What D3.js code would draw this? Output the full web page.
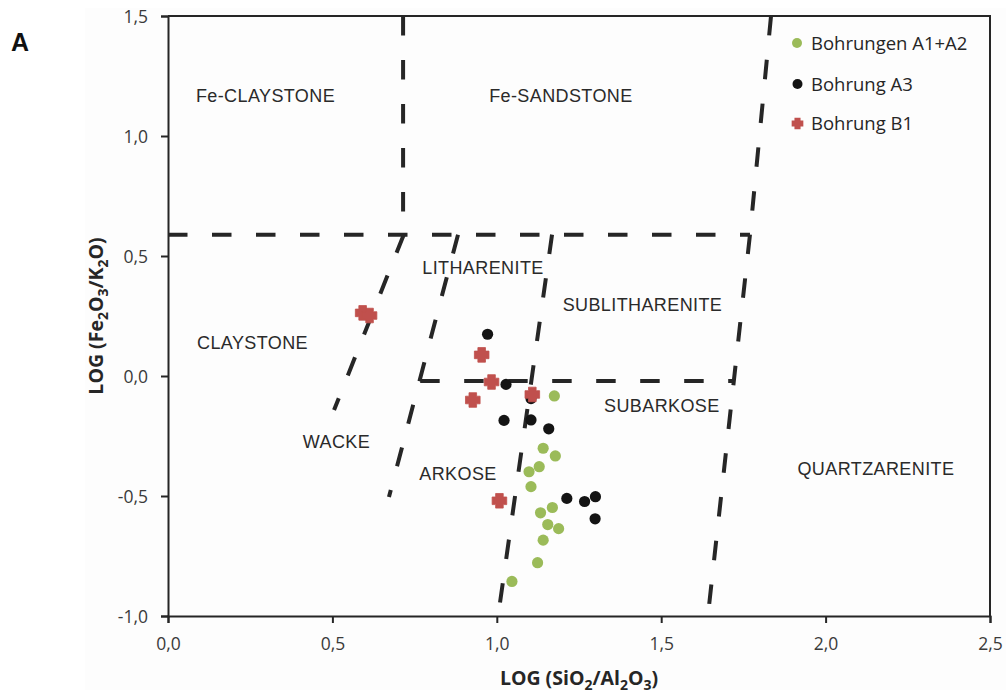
<!DOCTYPE html>
<html>
<head>
<meta charset="utf-8">
<script src="https://cdn.jsdelivr.net/npm/d3@7"></script>
<style>
  html, body { margin: 0; padding: 0; background: #ffffff; }
  svg { display: block; }
</style>
</head>
<body>
<svg id="chart" width="1006" height="695"></svg>
<script>
// ---------- data ----------
const xTicks = [0, 0.5, 1.0, 1.5, 2.0, 2.5];
const yTicks = [-1.0, -0.5, 0.0, 0.5, 1.0, 1.5];

// Bohrungen A1+A2 (green)
const seriesA12x = [1.175, 1.141, 1.178, 1.129, 1.098, 1.104, 1.169, 1.133, 1.155, 1.188, 1.141, 1.124, 1.046];
const seriesA12y = [-0.083, -0.301, -0.333, -0.378, -0.399, -0.461, -0.548, -0.570, -0.619, -0.636, -0.684, -0.778, -0.856];
// Bohrung A3 (black)
const seriesA3x = [0.972, 1.028, 1.104, 1.022, 1.104, 1.158, 1.213, 1.267, 1.300, 1.299];
const seriesA3y = [0.174, -0.035, -0.094, -0.185, -0.183, -0.220, -0.510, -0.523, -0.503, -0.595];
// Bohrung B1 (red)
const seriesB1x = [0.592, 0.613, 0.954, 0.984, 0.927, 1.108, 1.008];
const seriesB1y = [0.263, 0.252, 0.088, -0.025, -0.100, -0.077, -0.520];

const seriesNames = ["Bohrungen A1+A2", "Bohrung A3", "Bohrung B1"];

// classification boundaries [x1, y1, x2, y2] in data units
const boundaries = [
  [0.000, 0.589, 1.770, 0.589],
  [0.715, 1.500, 0.715, 0.589],
  [0.717, 0.589, 0.505, -0.142],
  [0.882, 0.589, 0.672, -0.504],
  [1.168, 0.589, 1.004, -1.000],
  [1.834, 1.500, 1.770, 0.589],
  [1.770, 0.589, 1.642, -1.000],
  [0.767, -0.021, 1.720, -0.021]
];

// field names with their centre in data units
const fieldNames = ["Fe-CLAYSTONE", "Fe-SANDSTONE", "LITHARENITE", "SUBLITHARENITE", "CLAYSTONE",
                    "SUBARKOSE", "WACKE", "ARKOSE", "QUARTZARENITE"];
const fieldX = [0.2965, 1.195, 0.958, 1.443, 0.257, 1.502, 0.5125, 0.882, 2.153];
const fieldY = [1.167, 1.167, 0.450, 0.296, 0.1375, -0.121, -0.271, -0.408, -0.3875];

// ---------- layout ----------
const svg = d3.select("#chart");
const pL = 168, pR = 990, pT = 16, pB = 616;
const x = d3.scaleLinear().domain([0, 2.5]).range([pL, pR]);
const y = d3.scaleLinear().domain([-1.0, 1.5]).range([pB, pT]);
const fmt = v => d3.format(".1f")(v).replace(".", ",").replace("\u2212", "-");

const colGreen = "#9bbb59", colBlack = "#141414", colRed = "#c0504d";
const ink = "#262626";

svg.append("rect").attr("x", 85).attr("y", 8).attr("width", 921).attr("height", 682).attr("fill", "#fdfdfd");

// frame (top & right)
svg.append("path")
  .attr("d", `M${pL},${pT}H${pR}V${pB}`)
  .attr("fill", "none").attr("stroke", ink).attr("stroke-width", 2);

// boundaries
svg.append("g").selectAll("line").data(boundaries).join("line")
  .attr("x1", d => x(d[0])).attr("y1", d => y(d[1]))
  .attr("x2", d => x(d[2])).attr("y2", d => y(d[3]))
  .attr("stroke", ink).attr("stroke-width", 4)
  .attr("stroke-dasharray", "19.5,24.5");

// axes
const xAxis = svg.append("g").attr("transform", `translate(0,${pB})`)
  .call(d3.axisBottom(x).tickValues(xTicks).tickFormat(fmt).tickSize(7).tickPadding(10));
const yAxis = svg.append("g").attr("transform", `translate(${pL},0)`)
  .call(d3.axisLeft(y).tickValues(yTicks).tickFormat(fmt).tickSize(7).tickPadding(13));
[xAxis, yAxis].forEach(g => {
  g.select(".domain").attr("stroke", ink).attr("stroke-width", 2);
  g.selectAll(".tick line").attr("stroke", ink).attr("stroke-width", 2);
  g.selectAll(".tick text").attr("fill", "#3a3a3a")
    .style("font-family", "'Open Sans', sans-serif").style("font-size", "17.5px");
});
xAxis.selectAll(".tick text").attr("dy", "0.95em");
yAxis.selectAll(".tick text").attr("dy", "0.36em");

// field labels
svg.append("g").selectAll("text").data(fieldNames).join("text")
  .attr("x", (d, i) => x(fieldX[i])).attr("y", (d, i) => y(fieldY[i]))
  .attr("dy", "0.36em").attr("text-anchor", "middle")
  .attr("fill", "#2a2a2a")
  .style("font-family", "'Liberation Sans', Arial, sans-serif").style("font-size", "18px")
  .style("letter-spacing", "0.4px")
  .text(d => d);

// markers
const crossPath = "M-3.8,-7.3H3.8V-3.8H7.3V3.8H3.8V7.3H-3.8V3.8H-7.3V-3.8H-3.8Z";
svg.append("g").selectAll("circle").data(seriesA12x).join("circle")
  .attr("cx", d => x(d)).attr("cy", (d, i) => y(seriesA12y[i])).attr("r", 5.6).attr("fill", colGreen);
svg.append("g").selectAll("circle").data(seriesA3x).join("circle")
  .attr("cx", d => x(d)).attr("cy", (d, i) => y(seriesA3y[i])).attr("r", 5.6).attr("fill", colBlack);
svg.append("g").selectAll("path").data(seriesB1x).join("path")
  .attr("transform", (d, i) => `translate(${x(d)},${y(seriesB1y[i])})`)
  .attr("d", crossPath).attr("fill", colRed)
  .attr("stroke", colRed).attr("stroke-width", 0.8).attr("stroke-linejoin", "round");

// legend
const legY = [43, 84, 123.5];
const leg = svg.append("g");
seriesNames.forEach((name, i) => {
  if (i === 0) leg.append("circle").attr("cx", 797).attr("cy", legY[i]).attr("r", 5).attr("fill", colGreen);
  if (i === 1) leg.append("circle").attr("cx", 797.5).attr("cy", legY[i]).attr("r", 5).attr("fill", colBlack);
  if (i === 2) leg.append("path").attr("transform", `translate(797.5,${legY[i]}) scale(0.8)`)
      .attr("d", crossPath).attr("fill", colRed);
  leg.append("text").attr("x", 811).attr("y", legY[i]).attr("dy", "0.36em")
    .attr("fill", "#262626")
    .style("font-family", "'Open Sans', sans-serif").style("font-size", "18.5px")
    .text(name);
});

// axis titles
const subSize = "14px", mainSize = "19.5px";
const xt = svg.append("text").attr("x", (pL + pR) / 2).attr("y", 685)
  .attr("text-anchor", "middle").attr("fill", "#262626")
  .style("font-family", "'Open Sans', sans-serif").style("font-size", mainSize).style("font-weight", "bold");
xt.append("tspan").text("LOG (SiO");
xt.append("tspan").attr("dy", 4.5).style("font-size", subSize).text("2");
xt.append("tspan").attr("dy", -4.5).text("/Al");
xt.append("tspan").attr("dy", 4.5).style("font-size", subSize).text("2");
xt.append("tspan").attr("dy", -4.5).text("O");
xt.append("tspan").attr("dy", 4.5).style("font-size", subSize).text("3");
xt.append("tspan").attr("dy", -4.5).text(")");

const yt = svg.append("text")
  .attr("transform", `translate(103,${(pT + pB) / 2}) rotate(-90)`)
  .attr("text-anchor", "middle").attr("fill", "#262626")
  .style("font-family", "'Open Sans', sans-serif").style("font-size", mainSize).style("font-weight", "bold");
yt.append("tspan").text("LOG (Fe");
yt.append("tspan").attr("dy", 4.5).style("font-size", subSize).text("2");
yt.append("tspan").attr("dy", -4.5).text("O");
yt.append("tspan").attr("dy", 4.5).style("font-size", subSize).text("3");
yt.append("tspan").attr("dy", -4.5).text("/K");
yt.append("tspan").attr("dy", 4.5).style("font-size", subSize).text("2");
yt.append("tspan").attr("dy", -4.5).text("O)");

// panel letter
svg.append("text").attr("x", 11).attr("y", 51).attr("fill", "#111")
  .style("font-family", "'Liberation Sans', Arial, sans-serif").style("font-size", "25px").style("font-weight", "bold")
  .text("A");
</script>
</body>
</html>
